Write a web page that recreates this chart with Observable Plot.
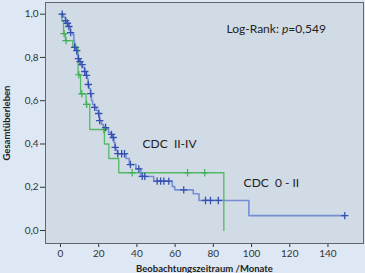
<!DOCTYPE html>
<html><head><meta charset="utf-8">
<script src="https://cdn.jsdelivr.net/npm/d3@7"></script>
<script src="https://cdn.jsdelivr.net/npm/@observablehq/plot@0.6"></script>
<style>
html,body{margin:0;padding:0;background:#dde8f4;}
#chart{width:365px;height:273px;}
svg text{font-family:Lato,"Open Sans",sans-serif;}
</style></head>
<body><div id="chart"></div>
<script>
// CDC 0 - II (blue): event times (months) and survival after each step
const blueTimes = [0, 1.6, 2.6, 3.5, 4.3, 5.2, 6.3, 7.0, 7.3, 8.1, 8.6, 9.3, 10.1, 10.7, 11.5, 12.6, 13.4, 13.9, 14.4, 14.9, 15.7, 16.2, 16.8, 17.8, 18.8, 19.9, 20.4, 21.5, 22.5, 24.0, 25.1, 26.2, 27.2, 28.0, 28.5, 29.3, 29.8, 34.3, 36.0, 39.5, 42.0, 48.8, 58.5, 59.8, 69.5, 72.5, 98.6, 148.8];
const blueSurv  = [1.0, 0.986, 0.97, 0.958, 0.943, 0.915, 0.906, 0.878, 0.847, 0.832, 0.814, 0.795, 0.781, 0.767, 0.754, 0.735, 0.717, 0.703, 0.675, 0.656, 0.633, 0.601, 0.582, 0.569, 0.555, 0.541, 0.508, 0.49, 0.476, 0.472, 0.453, 0.444, 0.43, 0.407, 0.384, 0.37, 0.355, 0.333, 0.305, 0.285, 0.25, 0.228, 0.203, 0.188, 0.17, 0.139, 0.069, 0.069];
const blueCensored = [0.9, 2.7, 3.6, 4.4, 5.3, 7.4, 8.5, 9.4, 10.2, 11.3, 12.7, 13.6, 14.6, 15.8, 17.9, 20.0, 20.5, 23.6, 26.7, 27.6, 28.6, 30.0, 32.0, 33.5, 36.6, 41.0, 42.8, 44.1, 50.6, 52.4, 54.1, 56.7, 64.5, 75.9, 78.5, 82.6, 148.8];

// CDC II-IV (green)
const greenTimes = [0, 0.7, 1.6, 2.6, 6.4, 9.2, 10.5, 13.4, 15.3, 23.0, 25.3, 30.5, 85.5];
const greenSurv  = [1.0, 0.968, 0.91, 0.878, 0.847, 0.72, 0.632, 0.583, 0.467, 0.40, 0.333, 0.267, 0.0];
const greenCensored = [1.9, 2.9, 7.9, 9.6, 11.2, 13.7, 22.7, 37.5, 66.5, 75.5];

const xTicks = [0, 20, 40, 60, 80, 100, 120, 140];
const yTicks = [0, 0.2, 0.4, 0.6, 0.8, 1.0];

const toRows = (t, s) => t.map((v, i) => ({t: v, s: s[i]}));
const survAt = (t, s) => (c) => { let v = s[0]; for (let i = 0; i < t.length; i++) if (t[i] <= c) v = s[i]; return v; };
const blueRows = toRows(blueTimes, blueSurv);
const greenRows = toRows(greenTimes, greenSurv);
const bS = survAt(blueTimes, blueSurv), gS = survAt(greenTimes, greenSurv);
const blueCens = blueCensored.map(c => ({t: c, s: bS(c)}));
const greenCens = greenCensored.map(c => ({t: c, s: gS(c)}));
const comma = d => d3.format(".1f")(d).replace(".", ",");

const chart = Plot.plot({
  width: 365, height: 273,
  marginLeft: 45, marginRight: 2, marginTop: 2, marginBottom: 30,
  style: {background: "transparent", fontSize: "10px", color: "#333"},
  x: {domain: [-7.85, 158.6], ticks: xTicks, tickSize: 4, tickPadding: 2, label: "Beobachtungszeitraum /Monate", labelAnchor: "center", labelOffset: 28, labelArrow: "none"},
  y: {domain: [-0.06, 1.054], ticks: yTicks, tickFormat: comma, tickSize: 5, tickPadding: 2, label: "Gesamtüberleben", labelAnchor: "center", labelOffset: 42, labelArrow: "none"},
  marks: [
    Plot.frame({fill: "#d0dbe6", stroke: null}),
    Plot.line(greenRows, {x: "t", y: "s", curve: "step-after", stroke: "#55b866", strokeWidth: 1.3}),
    Plot.line(blueRows, {x: "t", y: "s", curve: "step-after", stroke: "#6b86cf", strokeWidth: 1.6, strokeOpacity: 0.9}),
    Plot.dot(greenCens, {x: "t", y: "s", symbol: "plus", r: 2.5, stroke: "#3fae55", strokeWidth: 1.2}),
    Plot.dot(blueCens, {x: "t", y: "s", symbol: "plus", r: 2.5, stroke: "#3650b0", strokeWidth: 1.3}),
    Plot.text(["Log-Rank: p=0,549"], {x: 112.9, y: 0.93, fontSize: 12, fill: "#222", textAnchor: "middle"}),
    Plot.text(["CDC\u00a0 II-IV"], {x: 57.1, y: 0.40, fontSize: 12, fill: "#222", textAnchor: "middle"}),
    Plot.text(["CDC\u00a0 0 - II"], {x: 110.4, y: 0.219, fontSize: 12, fill: "#222", textAnchor: "middle"}),
    Plot.frame({stroke: "#5f6670", strokeWidth: 1})
  ]
});
document.getElementById("chart").appendChild(chart);
d3.select(chart).selectAll("text").each(function() {
  if (this.textContent === "Log-Rank: p=0,549") {
    this.innerHTML = 'Log-Rank: <tspan font-style="italic">p</tspan>=0,549';
  }
});
d3.select(chart).selectAll("[aria-label='x-axis label'] text, [aria-label='y-axis label'] text")
  .each(function() { this.textContent = this.textContent.replace(/\s*[→↑←↓]\s*/g, ""); })
  .attr("font-weight", "bold").attr("font-size", "9.5px").attr("fill", "#222");
</script></body></html>
